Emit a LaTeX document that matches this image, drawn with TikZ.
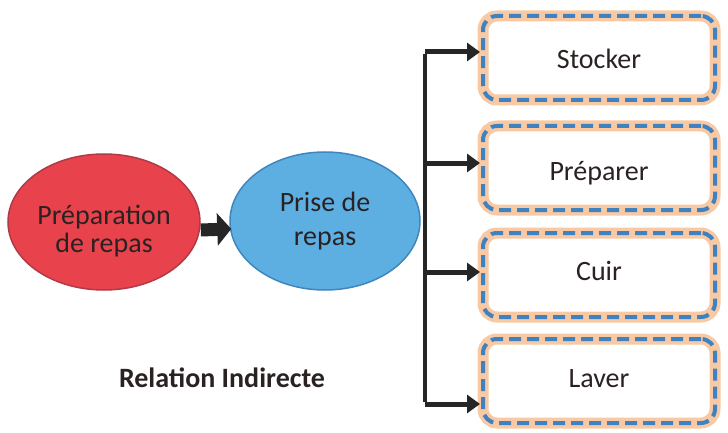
\documentclass[tikz,border=0pt]{standalone}
\usepackage{fontspec}
\setmainfont{Carlito}
\usetikzlibrary{arrows.meta,shapes.geometric}
\definecolor{redfill}{HTML}{E8434C}
\definecolor{redline}{HTML}{B03A48}
\definecolor{bluefill}{HTML}{5DAFE2}
\definecolor{blueline}{HTML}{3F86C0}
\definecolor{dashblue}{HTML}{3E82C2}
\definecolor{glow}{HTML}{F8C9A2}
\definecolor{txt}{HTML}{2A2222}
\newcommand{\shiftme}[2]{\raisebox{#1}[\height][\depth]{#2}}
\tikzset{
  oval/.style={ellipse, minimum width=#1, minimum height=136pt, inner sep=0pt, line width=1.5pt,
     align=center, font=\fontsize{28}{34}\selectfont, text=txt},
  taskbox/.style={rectangle, rounded corners=14pt, minimum width=232pt, minimum height=84pt,
     draw=dashblue, line width=4pt, dash pattern=on 12pt off 6pt,
     preaction={fill=white}, preaction={draw=glow, line width=11pt, solid},
     font=\fontsize{28}{33}\selectfont, text=txt},
  bigarrow/.style={line width=13pt, draw=black!85, -{Triangle[length=14pt,width=32pt]}},
  linkarrow/.style={line width=5pt, draw=black!85, -{Triangle[length=13pt,width=18pt]}},
}
\begin{document}
\begin{tikzpicture}[x=1pt,y=-1pt]
\useasboundingbox (0,0) rectangle (728,433);
\node[oval=192pt, fill=redfill, draw=redline] (prep) at (104,222) {\shiftme{-9pt}{\shortstack{Préparation\\[1pt]de repas}}};
\node[oval=190pt, fill=bluefill, draw=blueline, minimum height=138pt] (prise) at (325,221) {Prise de\\repas};
\draw[bigarrow, shorten >=-2pt] ([yshift=-8pt]prep.east) -- ([yshift=-8pt]prise.west);

\node[taskbox] (s1) at (599,58) {\shiftme{-1pt}{Stocker}\hspace{16pt}};
\node[taskbox] (s2) at (599,168) {\shiftme{-5pt}{Préparer}\hspace{16pt}};
\node[taskbox] (s3) at (599,275) {\shiftme{4pt}{Cuir}\hspace{16pt}};
\node[taskbox] (s4) at (599,381) {\shiftme{2pt}{Laver}\hspace{16pt}};

\coordinate (j1) at (425,52);
\coordinate (j2) at (425,163);
\coordinate (j3) at (425,272);
\coordinate (j4) at (425,404);
\draw[line width=3.5pt, draw=black!85] ([yshift=-2.5pt]j1) -- ([yshift=2.5pt]j4);
\draw[linkarrow] (j1) -- ([xshift=-1pt]j1 -| s1.west);
\draw[linkarrow] (j2) -- ([xshift=-1pt]j2 -| s2.west);
\draw[linkarrow] (j3) -- ([xshift=-1pt]j3 -| s3.west);
\draw[linkarrow] (j4) -- ([xshift=-1pt]j4 -| s4.west);

\node[font=\bfseries\fontsize{28}{33}\selectfont, text=txt] (rel) at (222,378) {Relation Indirecte};
\end{tikzpicture}
\end{document}
